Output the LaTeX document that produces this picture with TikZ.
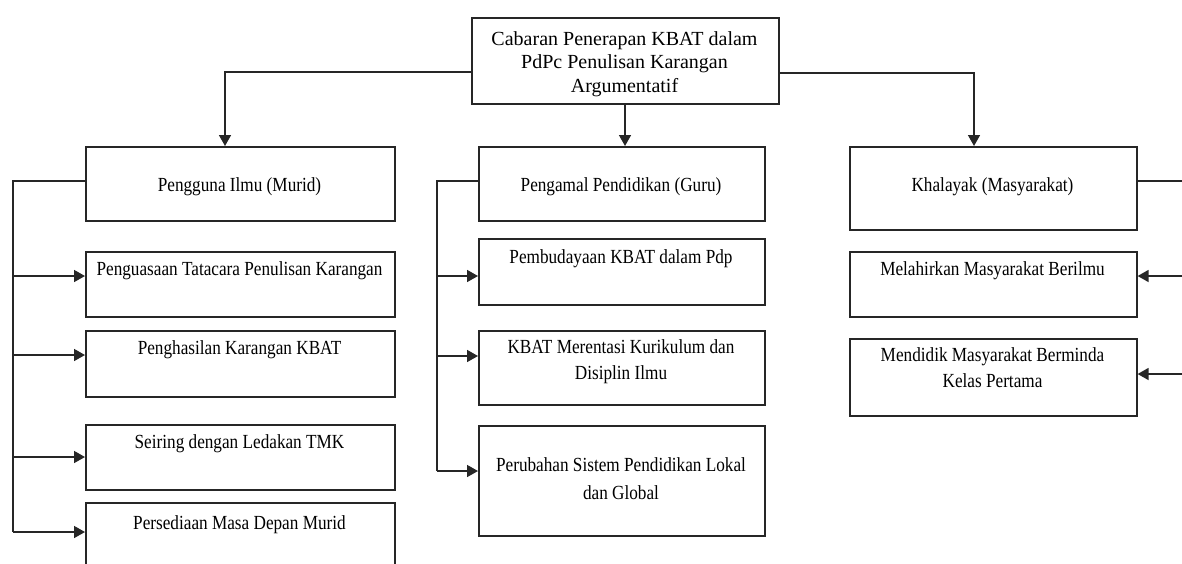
\documentclass[tikz,border=0pt]{standalone}
\usepackage{fontspec}
\setmainfont{Liberation Serif}[FakeStretch=0.86]
\newfontfamily\topfont{Liberation Serif}
\usetikzlibrary{arrows.meta}
\begin{document}
\begin{tikzpicture}[x=1pt,y=-1pt,
  box/.style={draw=black!85, line width=1.6pt, rectangle, inner sep=0pt, anchor=north west},
  lbl/.style={anchor=base, align=center, inner sep=0pt, font=\fontsize{20}{26}\selectfont},
  toplbl/.style={anchor=base, align=center, inner sep=0pt, font=\topfont\fontsize{20}{23.5}\selectfont},
  conn/.style={draw=black!85, line width=1.6pt},
  arr/.style={conn, -{Triangle[length=11pt,width=12pt]}},
]
\useasboundingbox (0,0) rectangle (1182,563);

% boxes
\node[box, minimum width=307pt, minimum height=86pt] (top) at (471,17) {};
\node[box, minimum width=309pt, minimum height=74pt] (pengguna) at (85,146) {};
\node[box, minimum width=286pt, minimum height=74pt] (pengamal) at (478,146) {};
\node[box, minimum width=287pt, minimum height=83pt] (khalayak) at (849,146) {};
\node[box, minimum width=309pt, minimum height=65pt] (penguasaan) at (85,251) {};
\node[box, minimum width=309pt, minimum height=66pt] (penghasilan) at (85,330) {};
\node[box, minimum width=309pt, minimum height=65pt] (seiring) at (85,424) {};
\node[box, minimum width=309pt, minimum height=80pt] (persediaan) at (85,502) {};
\node[box, minimum width=286pt, minimum height=66pt] (pembudayaan) at (478,238) {};
\node[box, minimum width=286pt, minimum height=74pt] (merentasi) at (478,330) {};
\node[box, minimum width=286pt, minimum height=110pt] (perubahan) at (478,425) {};
\node[box, minimum width=287pt, minimum height=65pt] (melahirkan) at (849,251) {};
\node[box, minimum width=287pt, minimum height=77pt] (mendidik) at (849,338) {};

% labels (multi-line nodes: base = last line's baseline)
\node[toplbl] (ttop) at (624.5,92) {Cabaran Penerapan KBAT dalam\\PdPc Penulisan Karangan\\Argumentatif};
\node[lbl] (tpengguna) at (239.5,191) {Pengguna Ilmu (Murid)};
\node[lbl] (tpengamal) at (621,191) {Pengamal Pendidikan (Guru)};
\node[lbl] (tkhalayak) at (992.5,191) {Khalayak (Masyarakat)};
\node[lbl] (tpenguasaan) at (239.5,275) {Penguasaan Tatacara Penulisan Karangan};
\node[lbl] (tpenghasilan) at (239.5,354) {Penghasilan Karangan KBAT};
\node[lbl] (tseiring) at (239.5,448) {Seiring dengan Ledakan TMK};
\node[lbl] (tpersediaan) at (239.5,529) {Persediaan Masa Depan Murid};
\node[lbl] (tpembudayaan) at (621,263) {Pembudayaan KBAT dalam Pdp};
\node[lbl] (tmerentasi) at (621,379) {KBAT Merentasi Kurikulum dan\\Disiplin Ilmu};
\node[lbl, font=\fontsize{20}{28}\selectfont] (tperubahan) at (621,499) {Perubahan Sistem Pendidikan Lokal\\dan Global};
\node[lbl] (tmelahirkan) at (992.5,275) {Melahirkan Masyarakat Berilmu};
\node[lbl] (tmendidik) at (992.5,387) {Mendidik Masyarakat Berminda\\Kelas Pertama};

% top connectors
\coordinate (tl) at (225,72);
\coordinate (tr) at (974,73);
\coordinate (tm) at (625,0);
\draw[arr] (top.west |- tl) -- (tl) -- (tl |- pengguna.north);
\draw[arr] (tm |- top.south) -- (tm |- pengamal.north);
\draw[arr] (top.east |- tr) -- (tr) -- (tr |- khalayak.north);

% left bus
\coordinate (lb) at (13,181);
\coordinate (lbend) at (13,532);
\coordinate (la1) at (13,276);
\coordinate (la2) at (13,355);
\coordinate (la3) at (13,457);
\draw[conn] (pengguna.west |- lb) -- (lb) -- (lbend);
\draw[arr] (la1) -- (la1 -| penguasaan.west);
\draw[arr] (la2) -- (la2 -| penghasilan.west);
\draw[arr] (la3) -- (la3 -| seiring.west);
\draw[arr] (lbend) -- (lbend -| persediaan.west);

% middle bus
\coordinate (mb) at (437,181);
\coordinate (mbend) at (437,471);
\coordinate (ma1) at (437,276);
\coordinate (ma2) at (437,356);
\draw[conn] (pengamal.west |- mb) -- (mb) -- (mbend);
\draw[arr] (ma1) -- (ma1 -| pembudayaan.west);
\draw[arr] (ma2) -- (ma2 -| merentasi.west);
\draw[arr] (mbend) -- (mbend -| perubahan.west);

% right bus (runs off the right edge)
\coordinate (rb) at (1182,181);
\coordinate (ra1) at (1182,276);
\coordinate (ra2) at (1182,374);
\draw[conn] (khalayak.east |- rb) -- (rb);
\draw[arr] (ra1) -- (ra1 -| melahirkan.east);
\draw[arr] (ra2) -- (ra2 -| mendidik.east);
\end{tikzpicture}
\end{document}
